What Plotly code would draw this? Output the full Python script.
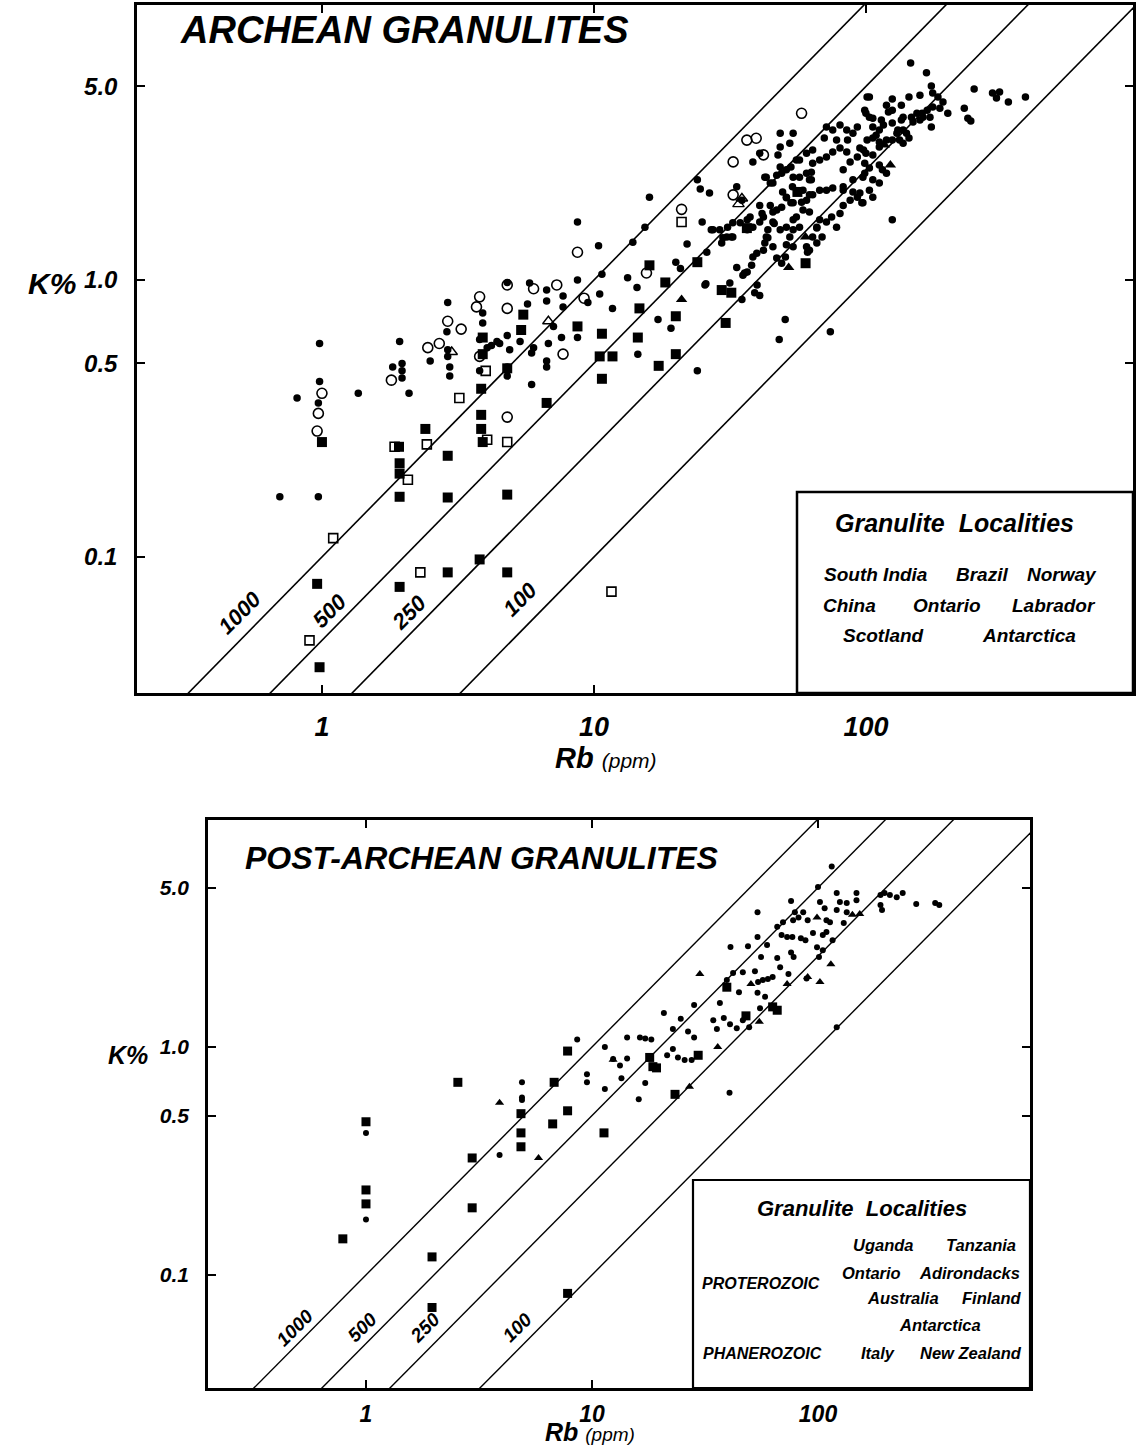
import math
import plotly.graph_objects as go

# ---------------- DATA : ARCHEAN GRANULITES (top panel) ----------------
# filled circles
arch_circ_rb = [0.70, 0.97, 0.81, 0.98, 0.98, 0.97, 1.36, 1.93, 1.97, 1.82, 1.97, 1.97, 2.09, 2.5, 2.9, 2.88, 2.9, 2.9, 2.95, 2.95,
                3.9, 3.9, 3.8, 4.05, 4.4, 4.8, 4.9, 5.35, 5.9, 6.0, 4.8, 5.8, 6.7, 6.7, 5.7, 4.8, 4.8, 3.8, 5.9, 6.8,
                6.7, 6.7, 7.1, 7.6, 8.7, 7.7, 7.7, 9.5, 10.5, 11.7, 10.7, 8.7, 8.7, 10.4, 4.5, 4.2,
                16, 13.9, 15.4, 13.3, 14.4, 17.2, 19.2, 14.5, 24, 25.6, 20, 22, 25, 24.6, 26.6, 27.4, 26, 20.8, 24,
                40.7, 47.5, 38.4, 43, 45.5, 49, 54, 57, 63, 63, 33.5, 35, 40.7, 41.5, 45.5, 49, 51, 54, 62, 62,
                66, 40.7, 43.6, 43.6, 46, 54, 52.5, 45.5, 42, 38.4, 38, 35.8, 33.5, 32.4, 29.8, 27, 29, 31, 32.4, 39.8,
                40.7, 35, 31.6, 48, 50.5, 66, 62, 25.8, 39, 74, 125,
                101, 119, 125, 114, 106, 103, 93, 89.6, 85, 80.3, 75.5, 71.6, 70.3, 78, 85.6, 80.3, 85, 95, 100, 106,
                112, 119, 130, 125, 115, 103, 97.5, 89.6, 82.5, 75.5, 71.6, 67.6, 63.7, 60.5, 58, 53, 51, 49.4, 53.7, 57,
                60.5, 63.7, 67.6, 71.6, 75.5, 63.7, 60.5, 55.5, 53, 51, 48.4, 47, 44.5, 48.4, 52.5, 54, 48.4, 42.5, 62, 82.5,
                87.5, 93, 55.5, 58.7, 51, 48.4, 43, 42.5, 45.5, 47, 44.5, 42, 38.4, 36.6, 34.5, 30.8, 29.5, 32, 36.6, 37.5,
                39.7, 36.6, 35.3, 51, 50.6, 49, 47, 54, 60.5, 61, 66, 67.6, 71.6, 74.8, 80.3, 82.5, 87.5, 93, 96.6, 95,
                103, 106, 112, 119, 106, 78, 69, 63.7, 57, 54, 82.5, 89.6, 58.7,
                146, 167, 174, 176, 184, 192, 187, 176, 168, 161, 154, 162, 158, 172, 174, 200, 158, 144, 135, 125,
                121, 137, 147, 149, 135, 137, 131, 141, 144, 133, 137, 125, 112, 109, 106, 101, 116, 106, 100, 103,
                99, 112, 98, 99, 99, 112, 97.5, 250, 292, 302, 310, 334, 386, 230, 237, 243]
arch_circ_k = [0.165, 0.165, 0.375, 0.59, 0.43, 0.36, 0.39, 0.60, 0.50, 0.485, 0.47, 0.443, 0.39, 0.51, 0.83, 0.65, 0.56, 0.53, 0.485, 0.45,
               0.76, 0.70, 0.61, 0.57, 0.60, 0.63, 0.56, 0.60, 0.545, 0.57, 0.98, 0.975, 0.92, 0.84, 0.82, 0.485, 0.45, 0.47, 0.42, 0.59,
               0.51, 0.485, 0.68, 0.62, 0.62, 0.875, 0.80, 0.83, 0.89, 0.79, 1.05, 1.0, 1.62, 1.33, 0.59, 0.58,
               1.99, 1.37, 1.55, 1.02, 0.94, 0.72, 0.67, 0.54, 0.47, 0.96, 1.16, 1.35, 1.62, 2.13, 2.06, 1.52, 1.26, 1.1, 2.3,
               2.87, 2.83, 2.67, 2.35, 2.24, 2.43, 2.35, 2.71, 2.45, 2.3, 2.17, 1.94, 1.86, 1.74, 1.76, 1.83, 1.98, 1.9, 2.03, 1.76,
               1.54, 1.62, 1.52, 1.42, 1.6, 1.65, 1.43, 1.32, 1.28, 1.21, 1.13, 1.06, 1.11, 1.43, 1.42, 1.52, 1.52, 1.55, 1.61, 0.96,
               0.88, 0.85, 0.975, 0.61, 0.72, 1.36, 1.28, 0.97, 0.90, 0.65, 1.65,
               4.58, 4.28, 4.1, 3.78, 3.57, 3.87, 3.57, 3.39, 3.48, 3.63, 3.48, 3.57, 3.26, 3.2, 3.2, 3.0, 2.9, 3.0, 2.87, 2.83,
               3.02, 3.2, 3.39, 3.69, 2.5, 2.54, 2.35, 2.3, 2.17, 2.15, 2.11, 2.11, 2.03, 1.94, 1.91, 1.9, 1.99, 2.08, 2.17, 2.35,
               2.43, 2.64, 2.71, 2.78, 2.9, 2.95, 2.87, 2.71, 2.56, 2.5, 2.56, 2.39, 2.24, 3.02, 3.12, 3.39, 3.39, 2.35, 2.3, 2.5,
               2.67, 2.78, 1.69, 1.79, 1.55, 1.52, 1.43, 1.36, 1.62, 1.79, 1.86, 1.69, 1.55, 1.52, 1.61, 1.43, 1.36, 1.43, 1.65, 1.69,
               1.25, 1.07, 1.04, 1.34, 1.21, 1.15, 1.2, 1.32, 1.32, 1.26, 1.55, 1.65, 1.62, 1.69, 1.74, 1.86, 1.94, 1.99, 1.9, 2.06,
               2.11, 2.3, 2.24, 2.43, 1.99, 1.55, 1.43, 1.43, 1.55, 1.52, 2.11, 2.08, 2.11,
               6.07, 5.6, 5.02, 4.73, 4.58, 4.39, 4.17, 4.21, 4.1, 4.0, 4.0, 3.87, 3.78, 3.87, 3.57, 4.0, 4.65, 4.58, 4.28, 4.5,
               4.04, 3.87, 3.87, 3.72, 3.78, 3.48, 3.48, 3.39, 3.26, 3.2, 3.12, 3.2, 3.48, 3.33, 3.26, 3.2, 3.63, 3.84, 4.0, 4.58,
               4.1, 3.15, 2.95, 2.64, 2.43, 2.6, 1.9, 4.89, 4.73, 4.54, 4.77, 4.39, 4.58, 4.17, 3.84, 3.75]
# open circles
arch_ocirc_rb = [1.0, 0.97, 0.96, 1.8, 2.45, 2.7, 2.9, 3.25, 3.8, 3.7, 3.8, 4.8, 4.8, 4.8, 6.0, 7.3, 7.7, 9.2, 8.7, 15.6,
                 21, 32.5, 32.5, 36.5, 39.5, 42, 58]
arch_ocirc_k = [0.39, 0.33, 0.285, 0.435, 0.57, 0.59, 0.71, 0.665, 0.87, 0.80, 0.53, 0.96, 0.79, 0.32, 0.93, 0.96, 0.54, 0.86, 1.26, 1.06,
                1.8, 2.03, 2.67, 3.2, 3.25, 2.83, 4.0]
# filled squares
arch_sq_rb = [1.0, 0.96, 0.98, 1.92, 1.93, 1.93, 1.93, 1.93, 2.4, 2.9, 2.9, 2.9, 3.85, 3.85, 3.85, 3.9, 4.8, 4.8, 3.8, 6.7,
              10.7, 10.5, 11.7, 8.7, 10.7, 14.5, 17.3, 20, 20, 16, 18.3, 14.7, 5.5, 5.4, 3.9, 3.9, 4.8, 24, 29.5, 32,
              30.5, 36.5, 60, 56]
arch_sq_k = [0.26, 0.08, 0.04, 0.25, 0.218, 0.2, 0.165, 0.078, 0.29, 0.232, 0.164, 0.088, 0.405, 0.326, 0.29, 0.26, 0.168, 0.088, 0.098, 0.36,
             0.44, 0.53, 0.53, 0.68, 0.64, 0.62, 0.49, 0.74, 0.54, 1.13, 0.98, 0.79, 0.75, 0.66, 0.62, 0.54, 0.48, 1.16, 0.92, 0.9,
             0.7, 1.54, 1.15, 2.08]
# open squares
arch_osq_rb = [1.85, 2.07, 2.43, 1.1, 0.9, 2.3, 3.2, 4.0, 4.8, 4.05, 11.6, 21]
arch_osq_k = [0.25, 0.19, 0.255, 0.117, 0.05, 0.088, 0.375, 0.47, 0.26, 0.265, 0.075, 1.62]
# filled triangles
arch_tri_rb = [123, 117, 60, 21, 52]
arch_tri_k = [2.6, 3.07, 1.43, 0.85, 1.11]
# open triangles
arch_otri_rb = [3.0, 6.8, 35, 34]
arch_otri_k = [0.55, 0.71, 1.97, 1.88]

# ---------------- DATA : POST-ARCHEAN GRANULITES (bottom panel) ----------------
post_circ_rb = [1.0, 1.0, 4.9, 4.9, 4.9, 2.95, 3.9, 8.6, 9.5, 9.5, 11.4, 11.4,
                12.4, 13.3, 14.3, 13.5, 16.1, 17.2, 14.3, 16.3, 17.2, 18.3, 20.8, 22.8, 24.7, 26.6, 28.3, 28.3, 21.5, 22.8,
                24, 25.7, 27.6, 34.4, 35.7, 38.3, 40.8, 43.7, 46.5, 36.8, 44.7, 54, 58.3, 55.4, 49.6, 39.5, 42.1, 46.5, 52.6, 54.3,
                57, 60, 63, 68, 66, 74, 56, 49, 41, 54, 59.5, 69, 73, 77, 84, 88, 76, 78, 95, 105,
                109, 99, 101, 105, 113, 109, 107, 121, 134, 134, 125, 121, 148, 148, 130, 116, 102, 100, 115, 76,
                86, 79, 82, 77.6, 90, 70, 54, 66, 189, 197, 208, 189, 192, 223, 237, 272, 330, 344, 89, 121, 40.6]
post_circ_k = [0.42, 0.175, 0.70, 0.60, 0.585, 0.326, 0.336, 1.08, 0.76, 0.70, 1.0, 0.655,
               0.886, 0.83, 0.89, 0.73, 0.59, 0.695, 1.1, 1.1, 1.09, 1.08, 1.41, 1.2, 1.33, 1.17, 1.1, 1.53, 0.92, 0.98,
               0.9, 0.877, 0.877, 1.31, 1.2, 1.34, 1.26, 1.21, 1.31, 1.56, 1.74, 1.73, 1.66, 1.48, 1.22, 1.97, 2.11, 2.13, 2.15, 1.93,
               1.97, 1.99, 2.03, 2.24, 2.46, 2.09, 2.48, 2.77, 2.75, 3.04, 2.8, 3.1, 3.04, 3.04, 3.0, 2.94, 2.6, 2.48, 3.16, 3.1,
               3.2, 2.74, 2.48, 2.66, 3.53, 3.6, 4.06, 3.99, 4.28, 3.9, 4.33, 4.74, 4.74, 4.4, 3.5, 2.94, 4.33, 5.03, 6.2, 4.37,
               3.9, 3.9, 3.7, 3.6, 3.6, 3.53, 3.9, 3.37, 4.64, 4.74, 4.64, 4.2, 3.99, 4.54, 4.74, 4.24, 4.28, 4.2, 2.0, 1.22, 0.63]
post_sq_rb = [1.0, 1.0, 1.0, 0.79, 2.55, 2.95, 1.96, 1.96, 2.95, 4.85, 4.85, 4.85, 6.8, 7.8, 7.8, 6.7, 11.3, 7.8,
              18, 18.6, 19.3, 29.5, 39.5, 48, 23.3, 63, 66]
post_sq_k = [0.47, 0.236, 0.205, 0.144, 0.70, 0.197, 0.12, 0.072, 0.326, 0.51, 0.42, 0.365, 0.70, 0.96, 0.525, 0.46, 0.42, 0.083,
             0.9, 0.82, 0.81, 0.92, 1.83, 1.37, 0.62, 1.5, 1.45]
post_tri_rb = [3.9, 5.8, 12.4, 30, 50.5, 55, 27, 73, 90, 102, 114, 99, 142, 153, 36]
post_tri_k = [0.57, 0.326, 0.88, 2.09, 1.89, 1.29, 0.67, 1.89, 2.03, 1.93, 2.31, 3.7, 3.8, 3.83, 1.0]

# K/Rb reference ratios
ratios = [1000, 500, 250, 100]
ratio_labels = ["1000", "500", "250", "100"]
line_rb_ends = [0.05, 5000]

x_tickvals = [1, 10, 100]
x_ticktext = ["1", "10", "100"]
y_tickvals = [0.1, 0.5, 1, 5]
y_ticktext = ["0.1", "0.5", "1.0", "5.0"]

top_localities = [["South India", "Brazil", "Norway"], ["China", "Ontario", "Labrador"], ["Scotland", "Antarctica"]]

FONT = "Liberation Sans, Arial, Helvetica, sans-serif"
W, H = 1137, 1447

fig = go.Figure()


def add_points(xs, ys, symbol, size, xa, ya, lw=0):
    fig.add_trace(go.Scatter(
        x=xs, y=ys, mode="markers", xaxis=xa, yaxis=ya, showlegend=False,
        marker=dict(symbol=symbol, size=size, color="black",
                    line=dict(color="black", width=lw))))


def add_ratio_lines(xa, ya, lw):
    for r in ratios:
        fig.add_trace(go.Scatter(
            x=line_rb_ends, y=[v * r / 10000.0 for v in line_rb_ends], mode="lines",
            xaxis=xa, yaxis=ya, showlegend=False, line=dict(color="black", width=lw)))


# top panel
add_ratio_lines("x", "y", 1.6)
add_points(arch_circ_rb, arch_circ_k, "circle", 7.5, "x", "y")
add_points(arch_ocirc_rb, arch_ocirc_k, "circle-open", 10, "x", "y", 1.6)
add_points(arch_sq_rb, arch_sq_k, "square", 10, "x", "y")
add_points(arch_osq_rb, arch_osq_k, "square-open", 9, "x", "y", 1.6)
add_points(arch_tri_rb, arch_tri_k, "triangle-up", 10, "x", "y")
add_points(arch_otri_rb, arch_otri_k, "triangle-up-open", 10, "x", "y", 1.4)

# bottom panel
add_ratio_lines("x2", "y2", 1.4)
add_points(post_circ_rb, post_circ_k, "circle", 6, "x2", "y2")
add_points(post_sq_rb, post_sq_k, "square", 9, "x2", "y2")
add_points(post_tri_rb, post_tri_k, "triangle-up", 8, "x2", "y2")


def axis_common(size):
    return dict(type="log", showgrid=False, zeroline=False, showline=True, linecolor="black",
                linewidth=2.5, mirror="ticks", ticks="inside", ticklen=8, tickwidth=2,
                tickcolor="black",
                tickfont=dict(family=FONT, size=size, color="black", weight="bold", style="italic"))


# pixel layout -> domains
top_px = dict(l=137, r=1133, t=5, b=693)
bot_px = dict(l=208, r=1030, t=820, b=1388)

fig.update_layout(
    width=W, height=H, margin=dict(l=0, r=0, t=0, b=0),
    paper_bgcolor="white", plot_bgcolor="white", showlegend=False,
    xaxis=dict(axis_common(27), domain=[top_px["l"] / W, top_px["r"] / W], range=[-0.68, 2.982],
               tickvals=x_tickvals, ticktext=x_ticktext, anchor="y", ticklabelstandoff=8),
    yaxis=dict(axis_common(24), domain=[1 - top_px["b"] / H, 1 - top_px["t"] / H], range=[-1.491, 0.993],
               tickvals=y_tickvals, ticktext=y_ticktext, anchor="x", ticklabelstandoff=12),
    xaxis2=dict(axis_common(23), domain=[bot_px["l"] / W, bot_px["r"] / W], range=[-0.699, 2.938],
                tickvals=x_tickvals, ticktext=x_ticktext, anchor="y2", ticklabelstandoff=4),
    yaxis2=dict(axis_common(21), domain=[1 - bot_px["b"] / H, 1 - bot_px["t"] / H], range=[-1.496, 0.996],
                tickvals=y_tickvals, ticktext=y_ticktext, anchor="x2", ticklabelstandoff=12),
)

ann = []


def txt(text, x, y, xref, yref, size, xanchor="center", angle=0, bold=True):
    ann.append(dict(text=text, x=x, y=y, xref=xref, yref=yref, showarrow=False,
                    xanchor=xanchor, yanchor="middle", textangle=angle,
                    font=dict(family=FONT, size=size, color="black",
                              weight="bold" if bold else "normal", style="italic")))


def dom(px, py, box):
    return ((px - box["l"]) / (box["r"] - box["l"]), (box["b"] - py) / (box["b"] - box["t"]))


# ---- top panel texts
x0, y0 = dom(178, 30, top_px)
txt("ARCHEAN GRANULITES", x0, y0, "x domain", "y domain", 38, xanchor="left")
txt("K%", 52 / W, 1 - 283 / H, "paper", "paper", 30)
txt("<b>Rb</b> <span style='font-weight:normal;font-size:21px'>(ppm)</span>", 606 / W, 1 - 758 / H,
    "paper", "paper", 29, bold=False)
top_lab_pos = [(0.50, 0.063), (1.07, 0.064), (2.09, 0.063), (5.35, 0.070)]
for lab, (rx, ky) in zip(ratio_labels, top_lab_pos):
    txt(lab, math.log10(rx), math.log10(ky), "x", "y", 22, angle=-45)

# top legend box
bx0, by0 = dom(797, 693, top_px)
bx1, by1 = dom(1133, 492, top_px)
fig.add_shape(type="rect", xref="x domain", yref="y domain", x0=bx0, y0=by0, x1=bx1, y1=by1,
              line=dict(color="black", width=2.5), fillcolor="white", layer="above")
gx, gy = dom(955, 523, top_px)
txt("Granulite  Localities", gx, gy, "x domain", "y domain", 25)
top_loc_px = [[876, 982, 1062], [850, 947, 1054], [884, 1029]]
top_loc_py = [574, 605, 635]
for row, xs, py in zip(top_localities, top_loc_px, top_loc_py):
    for name, px in zip(row, xs):
        lx, ly = dom(px, py, top_px)
        txt(name, lx, ly, "x domain", "y domain", 19)

# ---- bottom panel texts
x0, y0 = dom(243, 858, bot_px)
txt("POST-ARCHEAN GRANULITES", x0, y0, "x2 domain", "y2 domain", 32, xanchor="left")
txt("K%", 128 / W, 1 - 1055 / H, "paper", "paper", 25)
txt("<b>Rb</b> <span style='font-weight:normal;font-size:19px'>(ppm)</span>", 590 / W, 1 - 1432 / H,
    "paper", "paper", 25, bold=False)
bot_lab_pos = [(0.485, 0.059), (0.96, 0.059), (1.82, 0.059), (4.66, 0.059)]
for lab, (rx, ky) in zip(ratio_labels, bot_lab_pos):
    txt(lab, math.log10(rx), math.log10(ky), "x2", "y2", 19, angle=-45)

bx0, by0 = dom(693, 1388, bot_px)
bx1, by1 = dom(1030, 1180, bot_px)
fig.add_shape(type="rect", xref="x2 domain", yref="y2 domain", x0=bx0, y0=by0, x1=bx1, y1=by1,
              line=dict(color="black", width=2.2), fillcolor="white", layer="above")
bot_legend = [("Granulite  Localities", 862, 1208, 22),
              ("Uganda", 883, 1245, 16.5), ("Tanzania", 981, 1245, 16.5),
              ("PROTEROZOIC", 761, 1283, 16),
              ("Ontario", 871, 1273, 16.5), ("Adirondacks", 969, 1273, 16.5),
              ("Australia", 903, 1298, 16.5), ("Finland", 992, 1298, 16.5),
              ("Antarctica", 940, 1325, 16.5),
              ("PHANEROZOIC", 762, 1353, 16), ("Italy", 878, 1353, 16.5), ("New Zealand", 971, 1353, 16.5)]
for name, px, py, sz in bot_legend:
    lx, ly = dom(px, py, bot_px)
    txt(name, lx, ly, "x2 domain", "y2 domain", sz)

fig.update_layout(annotations=ann)
fig.write_html("out.html", config={"displayModeBar": False},
               post_script="document.body.style.margin='0';document.body.style.overflow='hidden';")
